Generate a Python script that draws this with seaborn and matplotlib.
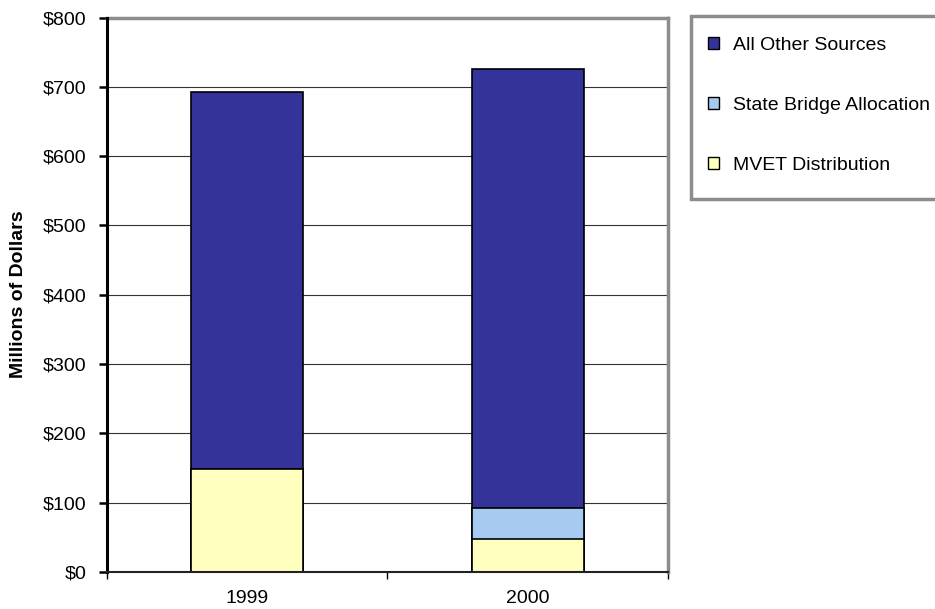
import matplotlib
matplotlib.use("Agg")
import matplotlib.pyplot as plt
from matplotlib.patches import Patch, Rectangle
from matplotlib.ticker import FuncFormatter, FixedLocator
import numpy as np
import pandas as pd
import seaborn as sns

# Funding sources by year, millions of dollars
years = ["1999", "2000"]
mvet_distribution = [148, 47]
state_bridge_allocation = [0, 45]
all_other_sources = [544, 633]

series_names = ["All Other Sources", "State Bridge Allocation", "MVET Distribution"]
series_colors = ["#333399", "#a6caf0", "#ffffc0"]

sns.set_theme(style="white")
plt.rcParams["font.family"] = ["Liberation Sans", "DejaVu Sans"]
plt.rcParams["text.color"] = "black"
plt.rcParams["axes.labelcolor"] = "black"
FS = 14

df = pd.DataFrame({
    "year": years,
    "mvet": mvet_distribution,
    "bridge": state_bridge_allocation,
    "other": all_other_sources,
})
df["lvl1"] = df["mvet"]
df["lvl2"] = df["mvet"] + df["bridge"]
df["lvl3"] = df["lvl2"] + df["other"]

W, H = 935, 609
fig = plt.figure(figsize=(W / 100, H / 100), dpi=100)
ax = fig.add_axes([107 / W, 1 - 572 / H, 561 / W, (572 - 17.5) / H])

# stacked bars drawn as layered cumulative totals, top segment first
for col, color in zip(["lvl3", "lvl2", "lvl1"], series_colors):
    sns.barplot(data=df, x="year", y=col, color=color, width=0.4,
                edgecolor="black", linewidth=1.2, saturation=1,
                ax=ax, zorder=3)

ax.set_xlim(-0.5, 1.5)
ax.set_ylim(0, 800)
ax.set_yticks(np.arange(0, 801, 100))
ax.yaxis.set_major_formatter(FuncFormatter(lambda v, p: f"${int(v)}"))
ax.set_xlabel("")
ax.set_ylabel("")
fig.text(19 / W, 1 - 294 / H, "Millions of Dollars", rotation=90,
         fontsize=FS, fontweight="bold", ha="center", va="center",
         color="black")

ax.grid(axis="y", color="#333333", linewidth=0.8, zorder=0)
ax.set_axisbelow(True)

ax.tick_params(axis="y", which="major", length=6, width=1.8, color="black",
               labelsize=FS, labelcolor="black", pad=9, left=True)
ax.tick_params(axis="x", which="major", length=0, labelsize=FS,
               labelcolor="black", pad=13)
ax.xaxis.set_minor_locator(FixedLocator([-0.5, 0.5, 1.5]))
ax.tick_params(axis="x", which="minor", length=5, width=1, color="black",
               bottom=True)

for side in ["top", "right"]:
    ax.spines[side].set_visible(True)
    ax.spines[side].set_color("#8c8c8c")
    ax.spines[side].set_linewidth(2.5)
ax.spines["left"].set_color("black")
ax.spines["left"].set_linewidth(2.2)
ax.spines["left"].set_zorder(5)
ax.spines["bottom"].set_color("#222222")
ax.spines["bottom"].set_linewidth(1.5)
ax.spines["bottom"].set_zorder(5)

# legend box runs past the right edge of the figure
fig.patches.append(Rectangle((691 / W, 1 - 199 / H), 260 / W, (199 - 16) / H,
                             transform=fig.transFigure, facecolor="white",
                             edgecolor="#8c8c8c", linewidth=2.5, zorder=1))

handles = [Patch(facecolor=c, edgecolor="black", linewidth=1) for c in series_colors]
leg = fig.legend(handles, series_names, loc="upper left",
                 bbox_to_anchor=(708 / W, 1 - 37 / H),
                 fontsize=FS, frameon=False, labelcolor="black",
                 handlelength=0.55, handleheight=0.55, handletextpad=0.75,
                 labelspacing=2.2, borderpad=0, borderaxespad=0)
leg.set_zorder(2)

fig.savefig("out.png", dpi=100, facecolor="white")
